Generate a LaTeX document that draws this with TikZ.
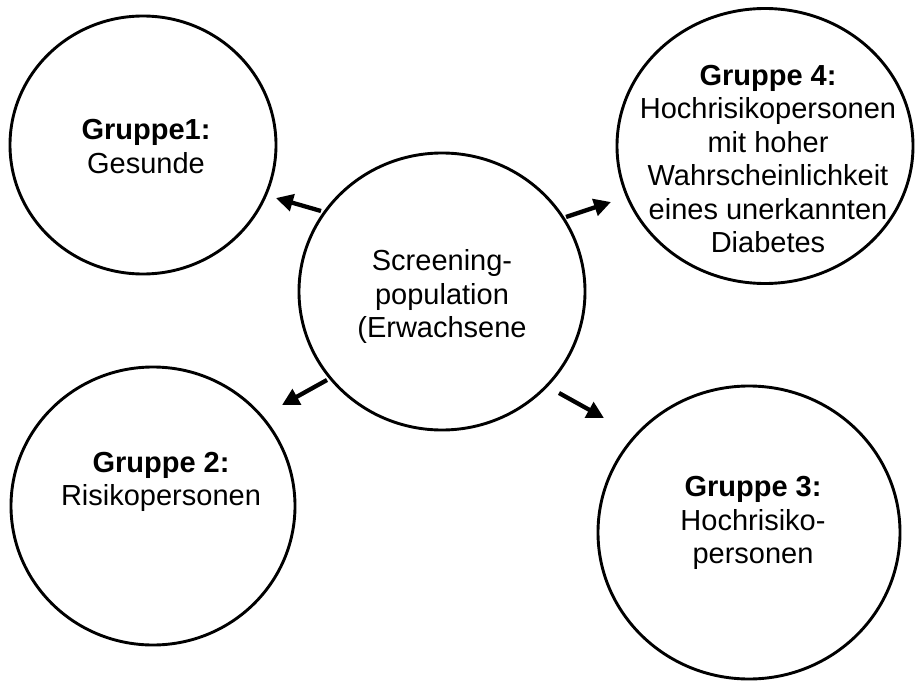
\documentclass[tikz,border=0pt]{standalone}
\usepackage{fontspec}
\setmainfont{Liberation Sans}
\usetikzlibrary{shapes.geometric,arrows.meta}
\begin{document}
\begin{tikzpicture}[x=1pt,y=-1pt,
  blob/.style={draw,ellipse,line width=2.9pt,inner sep=0pt},
  lbl/.style={align=center,inner sep=0pt,font=\fontsize{29}{33.5}\selectfont},
  arr/.style={line width=4.3pt,-{Triangle[length=17pt,width=17pt]}}]
\useasboundingbox (0,0) rectangle (915,682);
\node[blob,minimum width=266pt,minimum height=258pt] (g1) at (143,145) {};
\node[blob,minimum width=286pt,minimum height=277pt] (c) at (442,291.5) {};
\node[blob,minimum width=296pt,minimum height=275pt] (g4) at (765,146) {};
\node[blob,minimum width=284pt,minimum height=278pt] (g2) at (153,506) {};
\node[blob,minimum width=302pt,minimum height=293pt] (g3) at (749,532.5) {};
\node[lbl] (t1) at (146,146.5) {\textbf{Gruppe1:}\\Gesunde};
\node[lbl] (tc) at (442,296.5) {Screening-\\population\\(Erwachsene};
\node[lbl] (t4) at (768,159) {\textbf{Gruppe 4:}\\Hochrisikopersonen\\mit hoher\\Wahrscheinlichkeit\\eines unerkannten\\Diabetes};
\node[lbl] (t2) at (161,482) {\textbf{Gruppe 2:}\\Risikopersonen};
\node[lbl] (t3) at (753,523) {\textbf{Gruppe 3:}\\Hochrisiko-\\personen};
\coordinate (s1) at (321,211);
\coordinate (e1) at (276,198);
\coordinate (s4) at (566,217);
\coordinate (e4) at (611,202);
\coordinate (s2) at (327,380);
\coordinate (e2) at (282,405);
\coordinate (s3) at (559,393);
\coordinate (e3) at (604,418);
\draw[arr] (s1) -- (e1);
\draw[arr] (s4) -- (e4);
\draw[arr] (s2) -- (e2);
\draw[arr] (s3) -- (e3);
\end{tikzpicture}
\end{document}
